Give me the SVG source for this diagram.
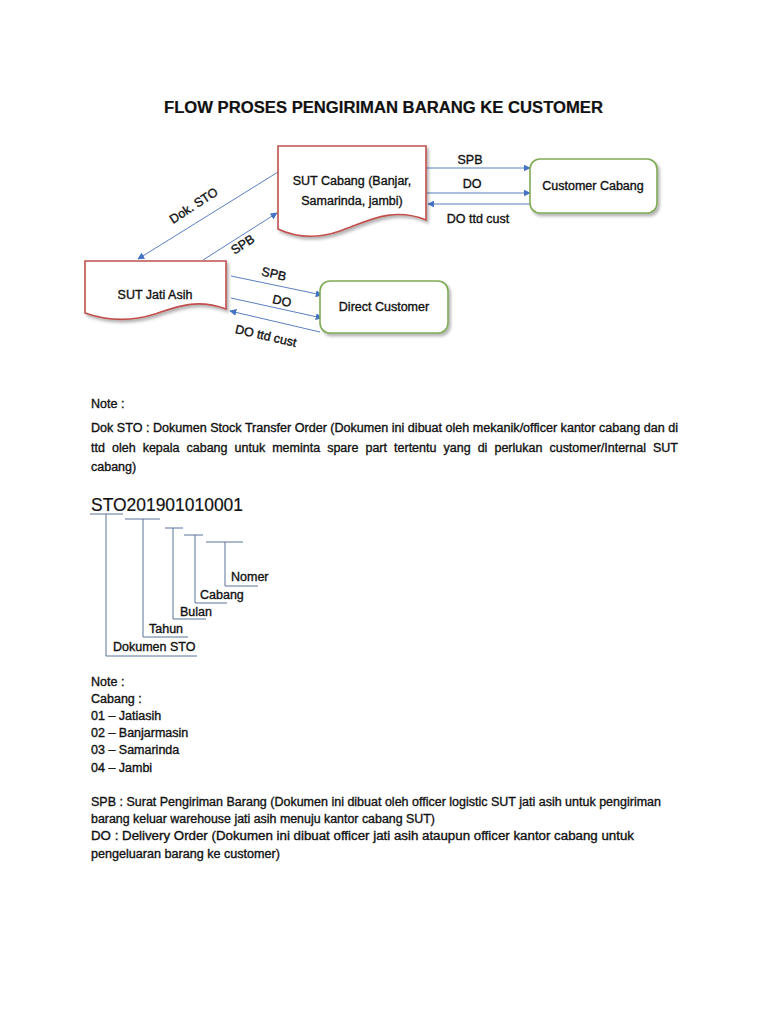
<svg xmlns="http://www.w3.org/2000/svg" width="768" height="1024" viewBox="0 0 768 1024">
<style>
text{font-family:"Liberation Sans",Arial,sans-serif;fill:#111;stroke:#111;stroke-width:0.35;font-size:12.5px}
.t{font-weight:bold;font-size:16px;stroke-width:0.2}
.c{text-anchor:middle}
.doc{fill:#fff;stroke:#c0504d;stroke-width:1.6}
.rr{fill:#fff;stroke:#7faa55;stroke-width:1.6}
.ln{stroke:#5b7fbf;stroke-width:1;fill:none}
.tr{stroke:#5a7399;stroke-width:1;fill:none}
</style>
<defs>
<marker id="ah" viewBox="0 0 10 10" refX="9" refY="5" markerWidth="7" markerHeight="7" orient="auto" markerUnits="userSpaceOnUse">
<path d="M0,0 L10,5 L0,10 Z" fill="#4472c4"/>
</marker>
<filter id="sh" x="-10%" y="-10%" width="130%" height="140%">
<feDropShadow dx="2" dy="2.5" stdDeviation="1.5" flood-color="#000" flood-opacity="0.3"/>
</filter>
</defs>
<rect width="768" height="1024" fill="#fff"/>

<text class="t" x="164" y="113" textLength="439" lengthAdjust="spacingAndGlyphs">FLOW PROSES PENGIRIMAN BARANG KE CUSTOMER</text>

<g id="connectors">
<line class="ln" x1="427" y1="168" x2="530" y2="168" marker-end="url(#ah)"/>
<line class="ln" x1="427" y1="193" x2="530" y2="193" marker-end="url(#ah)"/>
<line class="ln" x1="530" y1="204" x2="428" y2="204" marker-end="url(#ah)"/>
<line class="ln" x1="278" y1="172" x2="138" y2="259" marker-end="url(#ah)"/>
<line class="ln" x1="203" y1="260" x2="277" y2="213" marker-end="url(#ah)"/>
<line class="ln" x1="231" y1="276" x2="322" y2="295" marker-end="url(#ah)"/>
<line class="ln" x1="231" y1="298" x2="322" y2="318" marker-end="url(#ah)"/>
<line class="ln" x1="320" y1="332" x2="230" y2="311" marker-end="url(#ah)"/>
<text class="c" x="470" y="164">SPB</text>
<text class="c" x="472" y="188">DO</text>
<text class="c" x="478" y="223">DO ttd cust</text>
<text class="c" transform="translate(196,209) rotate(-33)">Dok. STO</text>
<text class="c" transform="translate(245,248) rotate(-33)">SPB</text>
<text class="c" transform="translate(273,278) rotate(13)">SPB</text>
<text class="c" transform="translate(281,305) rotate(13)">DO</text>
<text class="c" transform="translate(265,340) rotate(13)">DO ttd cust</text>
</g>

<g id="sut-cabang">
<path class="doc" filter="url(#sh)" d="M278,146 H426 V220 C392,206 366,222 340,231 C314,240 295,237 278,229 Z"/>
<text class="c" x="352" y="185">SUT Cabang (Banjar,</text>
<text class="c" x="352" y="205">Samarinda, jambi)</text>
</g>

<g id="sut-jati-asih">
<path class="doc" filter="url(#sh)" d="M85,261 H226 V309 C196,298 176,307 155,314 C130,322 105,320 85,313 Z"/>
<text class="c" x="155" y="299">SUT Jati Asih</text>
</g>

<g id="customer-cabang">
<rect class="rr" filter="url(#sh)" x="530" y="159" width="127" height="54" rx="10"/>
<text class="c" x="593" y="190">Customer Cabang</text>
</g>

<g id="direct-customer">
<rect class="rr" filter="url(#sh)" x="320" y="281" width="128" height="52" rx="10"/>
<text class="c" x="384" y="311">Direct Customer</text>
</g>

<g id="notes1">
<text x="91" y="408">Note :</text>
<text x="91" y="432" textLength="587" lengthAdjust="spacingAndGlyphs">Dok STO : Dokumen Stock Transfer Order (Dokumen ini dibuat oleh mekanik/officer kantor cabang dan di</text>
<text x="91" y="452" word-spacing="3.6" textLength="587" lengthAdjust="spacingAndGlyphs">ttd oleh kepala cabang untuk meminta spare part tertentu yang di perlukan customer/Internal SUT</text>
<text x="91" y="471">cabang)</text>
</g>

<g id="sto-code">
<text x="91" y="511" style="font-size:19px;stroke-width:0.2" textLength="152" lengthAdjust="spacingAndGlyphs">STO201901010001</text>
<path class="tr" d="M90,514 H123 M106,514 V656 H197"/>
<path class="tr" d="M125,519 H160 M143,519 V637 H188"/>
<path class="tr" d="M165,528 H183 M173,528 V619 H206"/>
<path class="tr" d="M184,535 H203 M195,535 V603 H227"/>
<path class="tr" d="M206,542 H243 M225,542 V586 H258"/>
<text x="231" y="581">Nomer</text>
<text x="200" y="599">Cabang</text>
<text x="180" y="616">Bulan</text>
<text x="149" y="633">Tahun</text>
<text x="113" y="651">Dokumen STO</text>
</g>

<g id="notes2">
<text x="91" y="686">Note :</text>
<text x="91" y="703">Cabang :</text>
<text x="91" y="720">01 – Jatiasih</text>
<text x="91" y="737">02 – Banjarmasin</text>
<text x="91" y="754">03 – Samarinda</text>
<text x="91" y="772">04 – Jambi</text>
</g>

<g id="notes3">
<text x="91" y="806" textLength="570" lengthAdjust="spacingAndGlyphs">SPB : Surat Pengiriman Barang (Dokumen ini dibuat oleh officer logistic SUT jati asih untuk pengiriman</text>
<text x="91" y="823" textLength="344" lengthAdjust="spacingAndGlyphs">barang keluar warehouse jati asih menuju kantor cabang SUT)</text>
<text x="91" y="840" textLength="543" lengthAdjust="spacingAndGlyphs">DO : Delivery Order (Dokumen ini dibuat officer jati asih ataupun officer kantor cabang untuk</text>
<text x="91" y="858" textLength="189" lengthAdjust="spacingAndGlyphs">pengeluaran barang ke customer)</text>
</g>
</svg>
